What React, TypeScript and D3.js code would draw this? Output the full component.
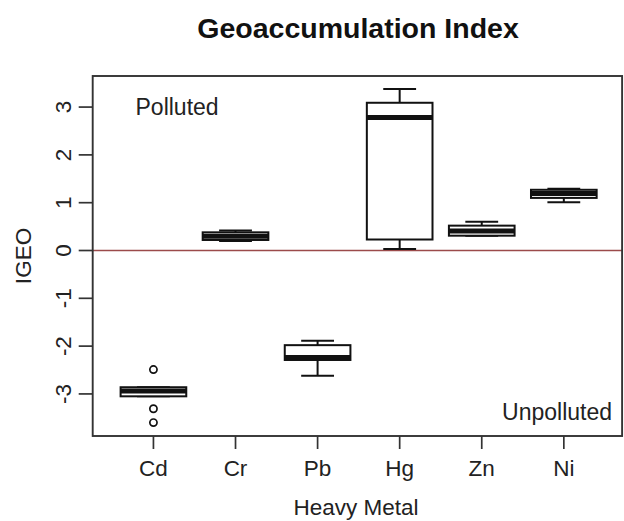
import React from "react";
import * as d3 from "d3";

const metals = ["Cd", "Cr", "Pb", "Hg", "Zn", "Ni"];
const lowerWhisker = [-3.05, 0.2, -2.62, 0.03, 0.31, 1.01];
const q1 = [-3.05, 0.22, -2.29, 0.23, 0.31, 1.1];
const median = [-2.94, 0.3, -2.24, 2.78, 0.41, 1.19];
const q3 = [-2.86, 0.38, -1.98, 3.09, 0.52, 1.27];
const upperWhisker = [-2.86, 0.42, -1.89, 3.38, 0.6, 1.29];
const outlierMetal = ["Cd", "Cd", "Cd"];
const outlierValue = [-2.49, -3.31, -3.6];
const yTicks = [-3, -2, -1, 0, 1, 2, 3];

const W = 624;
const H = 521;
const FONT = "'Liberation Sans', Arial, sans-serif";

export default function App() {
  const x = d3.scaleLinear().domain([0.26, 6.71]).range([92.7, 622.1]);
  const y = d3.scaleLinear().domain([-3.88, 3.65]).range([436, 76]);
  const step = x(2) - x(1);
  const boxW = step * 0.8;
  const capW = boxW * 0.5;
  const left = x(0.26);
  const right = x(6.71);
  const top = y(3.65);
  const bottom = y(-3.88);
  const stroke = "#111";

  return (
    <svg
      width={W}
      height={H}
      style={{ position: "absolute", left: 0, top: 0, background: "#fff" }}
      fontFamily={FONT}
    >
      <rect x={0} y={0} width={W} height={H} fill="#fff" />
      <text x={358} y={37.5} textAnchor="middle" fontSize={28.5} fontWeight="bold" fill="#111">
        Geoaccumulation Index
      </text>

      {/* zero reference line */}
      <line x1={left} x2={right} y1={y(0)} y2={y(0)} stroke="#9b4b4b" strokeWidth={1.7} />

      {/* boxes */}
      {metals.map((m, i) => {
        const cx = x(i + 1);
        return (
          <g key={m} stroke={stroke} strokeWidth={2} fill="none">
            <line x1={cx} x2={cx} y1={y(q3[i])} y2={y(upperWhisker[i])} />
            <line x1={cx} x2={cx} y1={y(q1[i])} y2={y(lowerWhisker[i])} />
            <line x1={cx - capW / 2} x2={cx + capW / 2} y1={y(upperWhisker[i])} y2={y(upperWhisker[i])} />
            <line x1={cx - capW / 2} x2={cx + capW / 2} y1={y(lowerWhisker[i])} y2={y(lowerWhisker[i])} />
            <rect
              x={cx - boxW / 2}
              y={y(q3[i])}
              width={boxW}
              height={y(q1[i]) - y(q3[i])}
              fill="#fff"
            />
            <line
              x1={cx - boxW / 2}
              x2={cx + boxW / 2}
              y1={y(median[i])}
              y2={y(median[i])}
              strokeWidth={5}
            />
          </g>
        );
      })}

      {outlierValue.map((v, k) => (
        <circle
          key={k}
          cx={x(metals.indexOf(outlierMetal[k]) + 1)}
          cy={y(v)}
          r={3.6}
          fill="none"
          stroke={stroke}
          strokeWidth={1.7}
        />
      ))}

      {/* frame */}
      <rect
        x={left}
        y={top}
        width={right - left}
        height={bottom - top}
        fill="none"
        stroke="#333"
        strokeWidth={1.9}
      />

      {/* y axis */}
      {yTicks.map((t) => (
        <g key={t}>
          <line x1={left} x2={left - 14} y1={y(t)} y2={y(t)} stroke="#333" strokeWidth={1.7} />
          <text
            transform={`translate(71,${y(t)}) rotate(-90)`}
            textAnchor="middle"
            fontSize={22.5}
            fill="#222"
          >
            {String(t)}
          </text>
        </g>
      ))}
      <text transform={`translate(31,256) rotate(-90)`} textAnchor="middle" fontSize={22.5} fill="#222">
        IGEO
      </text>

      {/* x axis */}
      {metals.map((m, i) => (
        <g key={m}>
          <line x1={x(i + 1)} x2={x(i + 1)} y1={bottom} y2={bottom + 13} stroke="#333" strokeWidth={1.7} />
          <text x={x(i + 1)} y={476} textAnchor="middle" fontSize={22.5} fill="#222">
            {m}
          </text>
        </g>
      ))}
      <text x={356} y={515} textAnchor="middle" fontSize={22.5} fill="#222">
        Heavy Metal
      </text>

      <text x={135.5} y={114.5} fontSize={23} fill="#222">
        Polluted
      </text>
      <text x={612} y={420} textAnchor="end" fontSize={23} fill="#222">
        Unpolluted
      </text>
    </svg>
  );
}
